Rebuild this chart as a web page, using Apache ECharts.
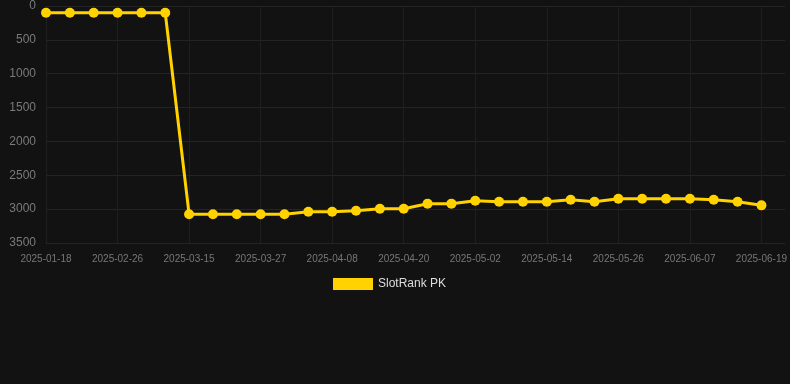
<!DOCTYPE html>
<html>
<head>
<meta charset="utf-8">
<script src="https://cdn.jsdelivr.net/npm/echarts@6/dist/echarts.min.js"></script>
<style>
  html, body { margin: 0; padding: 0; background: #121212; }
  #main { width: 790px; height: 384px; }
</style>
</head>
<body>
<div id="main"></div>
<script>
var dates = ['2025-01-18', '2025-01-31', '2025-02-13', '2025-02-26', '2025-03-05', '2025-03-10',
    '2025-03-15', '2025-03-19', '2025-03-23', '2025-03-27', '2025-03-31', '2025-04-04',
    '2025-04-08', '2025-04-12', '2025-04-16', '2025-04-20', '2025-04-24', '2025-04-28',
    '2025-05-02', '2025-05-06', '2025-05-10', '2025-05-14', '2025-05-18', '2025-05-22',
    '2025-05-26', '2025-05-30', '2025-06-03', '2025-06-07', '2025-06-11', '2025-06-15',
    '2025-06-19', ''];
var rankPK = [100, 100, 100, 100, 100, 100,
    3076, 3076, 3076, 3076, 3076, 3038,
    3038, 3023, 2993, 2993, 2919, 2919,
    2875, 2890, 2890, 2890, 2860, 2890,
    2846, 2846, 2846, 2846, 2860, 2890,
    2944];
var yTicks = ['0', '500', '1000', '1500', '2000', '2500', '3000', '3500'];

var chart = echarts.init(document.getElementById('main'));
var option = {
    backgroundColor: '#121212',
    animation: false,
    grid: { left: 46, right: 4, top: 6, bottom: 141 },
    legend: {
        data: ['SlotRank PK'],
        top: 273,
        left: 328,
        itemWidth: 40,
        itemHeight: 12,
        itemGap: 10,
        icon: 'rect',
        textStyle: { color: '#dddddd', fontSize: 12 }
    },
    xAxis: {
        type: 'category',
        boundaryGap: false,
        data: dates,
        axisLine: { show: false },
        axisTick: { show: false },
        axisLabel: { color: '#777777', fontSize: 10, interval: 2, margin: 11 },
        splitLine: { show: true, interval: 2, lineStyle: { color: '#1f1f1f' } }
    },
    yAxis: {
        type: 'value',
        inverse: true,
        min: 0,
        max: 3500,
        interval: 500,
        axisLine: { show: false },
        axisTick: { show: false },
        axisLabel: {
            color: '#7a7a7a', fontSize: 12, margin: 10,
            formatter: function (v) { return yTicks[Math.round(v / 500)]; }
        },
        splitLine: { lineStyle: { color: '#242424' } }
    },
    series: [{
        name: 'SlotRank PK',
        type: 'line',
        data: rankPK,
        symbol: 'circle',
        symbolSize: 10,
        lineStyle: { color: '#FFD200', width: 3 },
        itemStyle: { color: '#FFD200' }
    }]
};
chart.setOption(option);
</script>
</body>
</html>
